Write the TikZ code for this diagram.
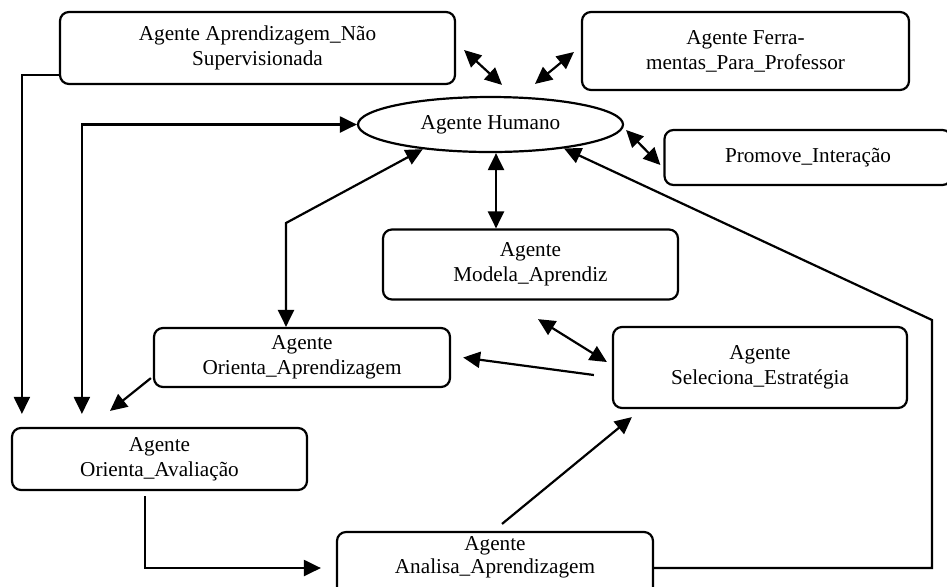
\documentclass[tikz,border=0pt]{standalone}
\usepackage{fontspec}
\setmainfont{Liberation Serif}
\usetikzlibrary{shapes,arrows.meta,calc,positioning}

\begin{document}
\begin{tikzpicture}[x=0.5pt,y=-0.5pt,>={Triangle[length=8.5pt,width=8pt]},line width=1.1pt,font=\fontsize{10.6}{12.5}\selectfont]
                \tikzstyle{agent}=[draw=black,rectangle,rounded corners=4.5pt,align=center,inner sep=2pt]
                \tikzstyle{human}=[draw=black,ellipse,inner sep=0pt]

                \useasboundingbox (0,0) rectangle (947,586);

                \node[human,minimum width=132.5pt,minimum height=27.5pt] at (490.5,124.5) (a_hum) {Agente Humano};
                \node[agent,minimum width=197.5pt,minimum height=36pt] at (257.5,48) (a_nsup) {Agente Aprendizagem\_Não\\Supervisionada};
                \node[agent,minimum width=163.5pt,minimum height=39pt] at (745.5,51) (a_ferr) {Agente Ferra-\\mentas\_Para\_Professor};
                \node[agent,minimum width=143.5pt,minimum height=27.5pt] at (808,157.5) (a_prom) {Promove\_Interação};
                \node[agent,minimum width=147.5pt,minimum height=35pt] at (530.5,264.5) (a_mod) {Agente\\Modela\_Aprendiz};
                \node[agent,minimum width=148pt,minimum height=29.5pt] at (302,357.5) (a_oapr) {Agente\\Orienta\_Aprendizagem};
                \node[agent,minimum width=147pt,minimum height=40.5pt] at (760,367.5) (a_sel) {Agente\\Seleciona\_Estratégia};
                \node[agent,minimum width=147.5pt,minimum height=31pt] at (159.5,459) (a_oav) {Agente\\Orienta\_Avaliação};
                \node[agent,minimum width=158pt,minimum height=34pt] at (495,571) (a_ana) {Agente\\[-1pt]Analisa\_Aprendizagem\\[4pt]};

                \coordinate (c_bend) at (286,223);
                \coordinate (c_right) at (932,320);

                \draw[->] ([yshift=-13.5pt]a_nsup.west) -| ([xshift=5.5pt,yshift=6.5pt]a_oav.north west);
                \draw[<->] ([xshift=35.5pt,yshift=6.5pt]a_oav.north west) |- (a_hum.west);
                \draw[<->] (a_hum.200) -- (c_bend) -- (c_bend |- a_oapr.north);
                \draw[<->] ($(a_hum.south)+(5.5,0)$) -- ($(a_hum.south |- a_mod.north)+(5.5,0)$);
                \path ([xshift=4pt,yshift=-1pt]a_nsup.east) edge[<->] ([xshift=5.75pt,yshift=5.5pt]a_hum.north);
                \path ([xshift=-3.5pt,yshift=-0.5pt]a_ferr.west) edge[<->] ([xshift=22.25pt,yshift=6pt]a_hum.north);
                \path ([xshift=1pt,yshift=-2.75pt]a_hum.east) edge[<->] ([xshift=-1.5pt,yshift=-3.75pt]a_prom.west);
                \draw[->] ([yshift=1.5pt]a_ana.east) -| (c_right) -- (a_hum.-18);
                \path ([xshift=3.75pt,yshift=-9.25pt]a_mod.south) edge[<->] ([xshift=-2.5pt,yshift=2.75pt]a_sel.west);
                \path ([xshift=-9pt,yshift=-3.75pt]a_sel.west) edge[->] ([xshift=6pt]a_oapr.east);
                \path ([xshift=-1pt,yshift=5pt]a_oapr.south west) edge[->] ([xshift=-24.75pt,yshift=8pt]a_oav.north);
                \draw[->] ([xshift=-7.25pt,yshift=-2.5pt]a_oav.south) |- ([xshift=-7.5pt,yshift=1.5pt]a_ana.west);
                \path ([xshift=3.5pt,yshift=3.5pt]a_ana.north) edge[->] ([xshift=10pt,yshift=-4pt]a_sel.south west);
\end{tikzpicture}
\end{document}
